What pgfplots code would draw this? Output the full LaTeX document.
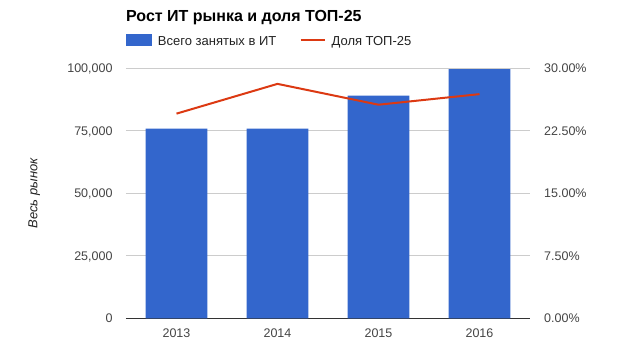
\documentclass[border=0pt]{standalone}
\usepackage{pgfplots}
\pgfplotsset{compat=1.18}
\usepackage{fontspec}
\setmainfont{Liberation Sans}
\definecolor{gblue}{HTML}{3366CC}
\definecolor{gred}{HTML}{DC3912}
\definecolor{ticktext}{HTML}{444444}
\definecolor{legtext}{HTML}{222222}
\definecolor{gridc}{HTML}{CCCCCC}
\begin{document}
\begin{tikzpicture}
\useasboundingbox (-126pt,-33.7pt) rectangle (504pt,318.3pt);
\begin{axis}[
  scale only axis, width=404pt, height=250pt,
  xmin=-0.5, xmax=3.5, ymin=0, ymax=100000,
  xtick={0,1,2,3}, xticklabels={2013,2014,2015,2016},
  ytick={0,25000,50000,75000,100000},
  yticklabels={0,{25,000},{50,000},{75,000},{100,000}},
  scaled y ticks=false,
  major tick length=0pt,
  axis x line*=bottom, axis y line*=left,
  x axis line style={-, draw=black!80, line width=1pt},
  y axis line style={draw=none},
  ymajorgrids, major grid style={draw=gridc, line width=1pt},
  ticklabel style={font=\fontsize{12.5}{15}\selectfont, text=ticktext, inner sep=0pt},
  yticklabel style={anchor=base east, xshift=-13.3pt, yshift=-4.5pt},
  xticklabel style={anchor=base, yshift=-19pt},
  ylabel={\itshape Весь рынок},
  ylabel style={at={(axis description cs:-0.2196,0.5)}, anchor=base, font=\fontsize{13}{15}\selectfont, text=legtext, inner sep=0pt},
  title={\bfseries Рост ИТ рынка и доля ТОП-25},
  title style={at={(axis description cs:0,1.1624)}, anchor=base west, font=\fontsize{16}{19}\selectfont, text=black, inner sep=0pt},
  legend columns=2,
  legend style={at={(axis description cs:0,1.092)}, anchor=base west, draw=none, fill=none, inner sep=0pt, outer sep=0pt,
    font=\fontsize{13}{15}\selectfont, text=legtext,
    nodes={inner sep=0pt, anchor=base west},
    cells={anchor=base west},
    /tikz/every odd column/.append style={column sep=6pt},
    /tikz/every even column/.append style={column sep=23.3pt}},
]
\addplot[ybar, bar width=0.61, fill=gblue, draw=none,
  legend image code/.code={\fill[gblue] (0pt,-1.2pt) rectangle (26pt,11pt);}]
  coordinates {(0,75900) (1,75900) (2,89100) (3,99700)};
\addlegendentry{Всего занятых в ИТ}
\addlegendimage{gred, line width=2pt, legend image code/.code={\draw[gred, line width=2pt] (0pt,5pt) -- (24pt,5pt);}}
\addlegendentry{Доля ТОП-25}
\end{axis}
\begin{axis}[
  scale only axis, width=404pt, height=250pt,
  xmin=-0.5, xmax=3.5, ymin=0, ymax=30,
  axis x line=none, axis y line*=right,
  y axis line style={draw=none},
  major tick length=0pt,
  ytick={0,7.5,15,22.5,30},
  yticklabels={0.00\%,7.50\%,15.00\%,22.50\%,30.00\%},
  yticklabel style={font=\fontsize{12.5}{15}\selectfont, text=ticktext, inner sep=0pt, anchor=base west, xshift=14pt, yshift=-4.5pt},
]
\addplot[gred, line width=2pt, mark=none] coordinates {(0,24.56) (1,28.13) (2,25.63) (3,26.9)};
\end{axis}
\end{tikzpicture}
\end{document}
